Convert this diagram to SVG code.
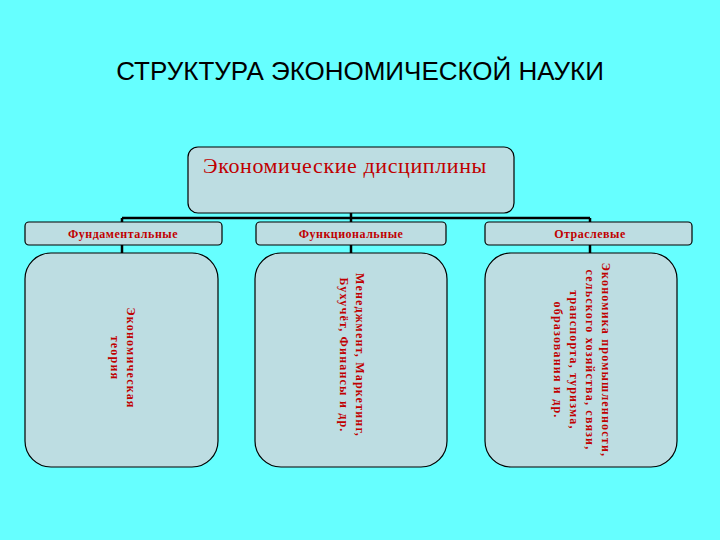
<svg xmlns="http://www.w3.org/2000/svg" width="720" height="540" viewBox="0 0 720 540">
<style>
.box{fill:#bddde2;stroke:#000;stroke-width:1.2}
.t{font-family:"Liberation Serif",serif;fill:#c00000;font-weight:bold}
.r{font-weight:normal;letter-spacing:0.6px}
.v{letter-spacing:1.2px}
.c{stroke:#000;stroke-width:2.5;fill:none}
</style>
<rect width="720" height="540" fill="#66ffff"/>
<text x="360" y="80" text-anchor="middle" font-family="Liberation Sans,sans-serif" font-size="26" fill="#000">СТРУКТУРА ЭКОНОМИЧЕСКОЙ НАУКИ</text>
<g id="connectors">
<path class="c" d="M351 213V218M122 218H590M122 218V222M351 218V222M590 218V222"/>
<path class="c" d="M122 245V253M351 245V253M590 245V253" stroke-width="1.5"/>
</g>
<g id="root"><rect class="box" x="188" y="147" width="326" height="66" rx="10"/>
<text class="t r" x="345" y="173" text-anchor="middle" font-size="22">Экономические дисциплины</text></g>
<g id="fund"><rect class="box" x="25" y="222" width="197" height="23" rx="4"/>
<text class="t" x="123" y="238" text-anchor="middle" font-size="12" letter-spacing="0.5">Фундаментальные</text></g>
<g id="func"><rect class="box" x="256" y="222" width="190" height="23" rx="4"/>
<text class="t" x="351" y="238" text-anchor="middle" font-size="12" letter-spacing="0.5">Функциональные</text></g>
<g id="otr"><rect class="box" x="485" y="222" width="207" height="23" rx="4"/>
<text class="t" x="590" y="238" text-anchor="middle" font-size="12" letter-spacing="0.5">Отраслевые</text></g>
<g id="fundBox"><rect class="box" x="25" y="253" width="193" height="214" rx="26"/>
<g transform="translate(122,358) rotate(90)"><text class="t v" font-size="12" text-anchor="middle"><tspan x="0" y="-5">Экономическая</tspan><tspan x="0" y="11">теория</tspan></text></g></g>
<g id="funcBox"><rect class="box" x="255" y="253" width="192" height="214" rx="26"/>
<g transform="translate(351,355) rotate(90)"><text class="t v" font-size="12" text-anchor="middle"><tspan x="0" y="-5">Менеджмент, Маркетинг,</tspan><tspan x="0" y="11">Бухучёт, Финансы и др.</tspan></text></g></g>
<g id="otrBox"><rect class="box" x="485" y="253" width="192" height="214" rx="26"/>
<g transform="translate(578,360) rotate(90)"><text class="t v" font-size="12" text-anchor="middle"><tspan x="0" y="-24">Экономика промышленности,</tspan><tspan x="0" y="-8">сельского хозяйства, связи,</tspan><tspan x="0" y="8">транспорта, туризма,</tspan><tspan x="0" y="24">образования и др.</tspan></text></g></g>
</svg>
